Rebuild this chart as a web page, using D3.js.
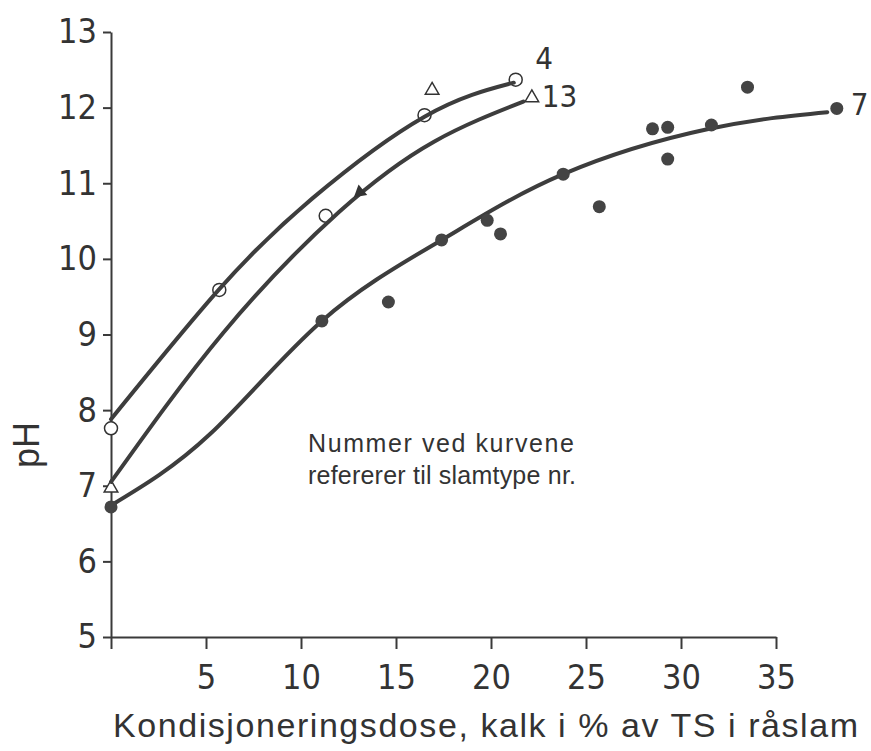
<!DOCTYPE html>
<html>
<head>
<meta charset="utf-8">
<script src="https://cdn.jsdelivr.net/npm/d3@7"></script>
<style>
  body { margin: 0; background: #fff; }
  svg { display: block; }
  .axis path, .axis line { stroke: #3a3a3a; stroke-width: 2; }
  .axis text { font-family: "DejaVu Sans Condensed", sans-serif; font-size: 34px; fill: #333; }
</style>
</head>
<body>
<div id="vis"></div>
<script>
// tick values
const xTicks = [0, 5, 10, 15, 20, 25, 30, 35];
const yTicks = [5, 6, 7, 8, 9, 10, 11, 12, 13];

// slamtype 4 : open circles + drawn curve
const pts4 = [[0, 7.76], [5.7, 9.59], [11.3, 10.57], [16.5, 11.9], [21.3, 12.37]];
const curve4 = [[0, 7.88], [5.7, 9.6], [10.6, 10.8], [16.5, 11.88], [21.2, 12.33]];

// slamtype 13 : open triangles + drawn curve
const pts13 = [[0, 6.97], [16.9, 12.23], [22.15, 12.13]];
const arrow13 = [[13.1, 10.88]];
const curve13 = [[0, 7.05], [5.9, 9.02], [12.0, 10.62], [17.0, 11.55], [21.7, 12.08]];

// slamtype 7 : filled dots + drawn curve
const pts7 = [[0, 6.72], [11.1, 9.18], [14.6, 9.43], [17.4, 10.25], [19.8, 10.51], [20.5, 10.33],
  [23.8, 11.12], [25.7, 10.69], [28.5, 11.72], [29.3, 11.74], [29.3, 11.32], [31.6, 11.77],
  [33.5, 12.27], [38.2, 11.99]];
const curve7 = [[0, 6.74], [5.2, 7.68], [11.1, 9.18], [17.4, 10.25], [23.8, 11.12],
  [31.5, 11.72], [37.7, 11.94]];

// curve number labels (placed at end of each curve)
const curveLabels = [
  { text: "4", at: [22.8, 12.66] },
  { text: "13", at: [23.6, 12.15] },
  { text: "7", at: [39.4, 12.05] }
];

const width = 871, height = 751;

const svg = d3.select("#vis").append("svg")
    .attr("width", width)
    .attr("height", height);

const x = d3.scaleLinear().domain([0, 35]).range([111, 776]);
const y = d3.scaleLinear().domain([5, 13]).range([637, 32]);

// axes
svg.append("g")
    .attr("class", "axis")
    .attr("transform", "translate(0," + y(5) + ")")
    .call(d3.axisBottom(x)
        .tickValues(xTicks)
        .tickSize(12)
        .tickSizeOuter(0)
        .tickPadding(16)
        .tickFormat((d) => d === 0 ? "" : d));

svg.append("g")
    .attr("class", "axis")
    .attr("transform", "translate(" + x(0) + ",0)")
    .call(d3.axisLeft(y)
        .tickValues(yTicks)
        .tickSize(8)
        .tickSizeOuter(0)
        .tickPadding(6)
        .tickFormat(d3.format("d")));

// axis titles
svg.append("text")
    .attr("x", 113)
    .attr("y", 737)
    .attr("textLength", 745)
    .attr("lengthAdjust", "spacing")
    .style("font-family", "'Liberation Sans', sans-serif")
    .style("font-size", "34px")
    .style("fill", "#333")
    .text("Kondisjoneringsdose, kalk i % av TS i råslam");

svg.append("text")
    .attr("transform", "translate(39,445) rotate(-90)")
    .attr("text-anchor", "middle")
    .style("font-family", "'Liberation Sans', sans-serif")
    .style("font-size", "36px")
    .style("fill", "#333")
    .text("pH");

// note
const note = svg.append("text")
    .style("font-family", "'Liberation Sans', sans-serif")
    .style("font-size", "25px")
    .style("fill", "#333");
note.append("tspan").attr("x", 308).attr("y", 452)
    .attr("textLength", 266).attr("lengthAdjust", "spacing")
    .text("Nummer ved kurvene");
note.append("tspan").attr("x", 308).attr("y", 484)
    .attr("textLength", 268).attr("lengthAdjust", "spacing")
    .text("refererer til slamtype nr.");

// open markers below curves
svg.selectAll(".c4")
    .data(pts4)
    .enter().append("circle")
    .attr("class", "c4")
    .attr("cx", (d) => x(d[0]))
    .attr("cy", (d) => y(d[1]))
    .attr("r", 6.5)
    .style("fill", "#fff")
    .style("stroke", "#333")
    .style("stroke-width", 1.5);

const tri = d3.symbol().type(d3.symbolTriangle).size(80);

svg.selectAll(".t13")
    .data(pts13)
    .enter().append("path")
    .attr("class", "t13")
    .attr("d", tri)
    .attr("transform", (d) => "translate(" + x(d[0]) + "," + y(d[1]) + ")")
    .style("fill", "#fff")
    .style("stroke", "#333")
    .style("stroke-width", 1.5);

// curves
const line = d3.line()
    .x((d) => x(d[0]))
    .y((d) => y(d[1]))
    .curve(d3.curveNatural);

svg.selectAll(".curve")
    .data([curve4, curve13, curve7])
    .enter().append("path")
    .attr("class", "curve")
    .attr("d", line)
    .style("fill", "none")
    .style("stroke", "#3d3d3d")
    .style("stroke-width", 4)
    .style("stroke-linecap", "round");

// filled arrow on curve 13
svg.selectAll(".a13")
    .data(arrow13)
    .enter().append("path")
    .attr("class", "a13")
    .attr("d", tri)
    .attr("transform", (d) => "translate(" + x(d[0]) + "," + y(d[1]) + ") rotate(-130)")
    .style("fill", "#333");

// filled dots
svg.selectAll(".d7")
    .data(pts7)
    .enter().append("circle")
    .attr("class", "d7")
    .attr("cx", (d) => x(d[0]))
    .attr("cy", (d) => y(d[1]))
    .attr("r", 6.5)
    .style("fill", "#444");

// curve numbers
svg.selectAll(".lab")
    .data(curveLabels)
    .enter().append("text")
    .attr("class", "lab")
    .attr("x", (d) => x(d.at[0]))
    .attr("y", (d) => y(d.at[1]))
    .attr("dy", "0.35em")
    .attr("text-anchor", "middle")
    .style("font-family", "'DejaVu Sans Condensed', sans-serif")
    .style("font-size", "31px")
    .style("fill", "#333")
    .text((d) => d.text);
</script>
</body>
</html>
